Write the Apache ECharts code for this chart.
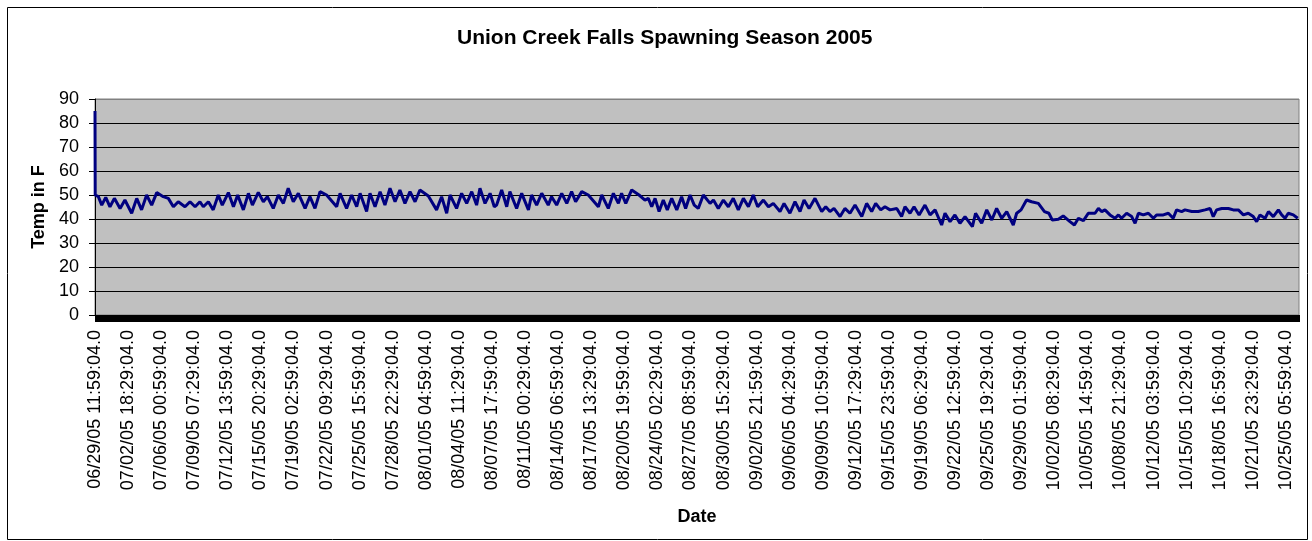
<!DOCTYPE html>
<html>
<head>
<meta charset="utf-8">
<script src="https://cdn.jsdelivr.net/npm/echarts@6/dist/echarts.min.js"></script>
<style>
html,body{margin:0;padding:0;background:#fff;}
#chart{width:1312px;height:541px;}
</style>
</head>
<body>
<div id="chart"></div>
<script>
// Tick labels (every 78.5 hours from the first reading)
const tickLabels = [
  "06/29/05 11:59:04.0","07/02/05 18:29:04.0","07/06/05 00:59:04.0","07/09/05 07:29:04.0",
  "07/12/05 13:59:04.0","07/15/05 20:29:04.0","07/19/05 02:59:04.0","07/22/05 09:29:04.0",
  "07/25/05 15:59:04.0","07/28/05 22:29:04.0","08/01/05 04:59:04.0","08/04/05 11:29:04.0",
  "08/07/05 17:59:04.0","08/11/05 00:29:04.0","08/14/05 06:59:04.0","08/17/05 13:29:04.0",
  "08/20/05 19:59:04.0","08/24/05 02:29:04.0","08/27/05 08:59:04.0","08/30/05 15:29:04.0",
  "09/02/05 21:59:04.0","09/06/05 04:29:04.0","09/09/05 10:59:04.0","09/12/05 17:29:04.0",
  "09/15/05 23:59:04.0","09/19/05 06:29:04.0","09/22/05 12:59:04.0","09/25/05 19:29:04.0",
  "09/29/05 01:59:04.0","10/02/05 08:29:04.0","10/05/05 14:59:04.0","10/08/05 21:29:04.0",
  "10/12/05 03:59:04.0","10/15/05 10:29:04.0","10/18/05 16:59:04.0","10/21/05 23:29:04.0",
  "10/25/05 05:59:04.0"
];
const tickStepHours = 78.5;
const lastHour = 2857;

// Readings: [hours since 06/29/05 11:59, temperature F]
const readingsLateJune = [[0,85],[0.5,50],[8,49.3],[16,45.8],[25.5,49],[35.5,45.1],[46,48.6],[59.5,44.4],[71,47.9],[87,42.4],[99,48.6],[110.5,43.8],[122.5,50],[134.5,45.8],[146.5,51],[162,49.3],[174,48.6],[186,45.1],[197.5,47.2],[213.5,45.1],[225.5,47.2],[237.5,45.1],[249,47.2],[257,45.1],[269,47.2],[280.5,43.8],[292.5,50],[302,45.8],[316.5,51],[328.5,45.1],[338.5,50],[352,43.8],[364,50.7],[373.5,45.8],[387.5,51.1],[399.5,47.2],[409,49.3],[423,44.4],[435,50],[447,46.5],[458.5,52.8],[470.5,47.2]];
const readingsJulyAug = [[482.5,50.7],[498.5,44.4],[510,49.3],[522,44.4],[534,51.4],[549.5,50],[573.5,45.1],[581.5,50.7],[597,44.4],[609,50],[621,45.1],[629,50.7],[644.5,43.1],[652.5,50.7],[664.5,45.1],[676.5,51.4],[688,45.8],[700,52.8],[712,47.2],[723.5,52.1],[735.5,46.5],[747.5,51.4],[759.5,47.2],[771,52.1],[791,49.6],[810.5,43.8],[822.5,49.3],[834.5,42.4],[842.5,50],[858,44.4],[870,50.7],[882,46.5],[894,51.4],[905.5,45.8],[913.5,52.8],[925.5,46.5],[937.5,50.7],[947.5,45.1]];
const readingsAugust = [[953,45.8],[965,52.1],[977,45.1],[984.5,51.4],[1000.5,44.4],[1012.5,50.7],[1028.5,43.8],[1036,50],[1048,45.8],[1060,50.7],[1075.5,45.8],[1083.5,49.3],[1095.5,45.8],[1107.5,50.7],[1119.5,46.5],[1131,51.4],[1140.5,47.2],[1155,51.4],[1170.5,50],[1194.5,45.1],[1202.5,50],[1218,44.4],[1230,50.7],[1242,46.5],[1249.5,50.7],[1259.5,46.5],[1273.5,52.1],[1291,50],[1305,47.9],[1313,48.6],[1321,45.1],[1329,48.6],[1338.5,43.1],[1348.5,47.9],[1358,43.8],[1368.5,48.6],[1380.5,43.8],[1392,49.3],[1401.5,44.4],[1412,50],[1422,45.8]];
const readingsSeptember = [[1431.5,44.4],[1443.5,50],[1459.5,46.5],[1467.5,47.9],[1479,44.4],[1491,47.9],[1503,45.1],[1514.5,48.6],[1526.5,43.8],[1538.5,48.6],[1550.5,45.1],[1562,50],[1572.5,45.1],[1586,47.9],[1598,45.1],[1609.5,46.5],[1625.5,43.1],[1635,46.5],[1649,42.4],[1661,47.2],[1673,43.1],[1682.5,47.9],[1694.5,44.4],[1708.5,48.6],[1724.5,43.1],[1734,45.1],[1744,43.1],[1753.5,44.4],[1768,41],[1779.5,44.4],[1791.5,42.4],[1803.5,45.8],[1819.5,41],[1831,46.5],[1843,43.1],[1852.5,46.5],[1864.5,43.8],[1874.5,45.1],[1886.5,43.8]];
const readingsLateSept = [[1902.5,44.4],[1914,41],[1922,45.1],[1934,42.4],[1943.5,45.1],[1955.5,41.7],[1969.5,45.8],[1981.5,41.7],[1993.5,43.8],[2009,37.5],[2017,42.4],[2029,38.9],[2040.5,41.7],[2052.5,38.2],[2064.5,41],[2082,36.8],[2089.5,42.4],[2104,38.2],[2116,43.8],[2128,39.6],[2139.5,44.4],[2151.5,40.3],[2163.5,43.1],[2179,37.5],[2187,42.4],[2197.5,43.8],[2210.5,47.9],[2222.5,47.2],[2238.5,46.5],[2253,43.1],[2263.5,42.4],[2271.5,39.6],[2286,39.9],[2297.5,41.3],[2313.5,38.9],[2324,37.5],[2333.5,40.3],[2345.5,39.3],[2357,42.4],[2373,42.4]];
const readingsOctober = [[2381,44.4],[2389,43.1],[2396.5,43.8],[2408.5,41.7],[2420.5,40.3],[2428.5,41.7],[2436,40.3],[2448,42.4],[2460,41],[2468,38.2],[2476,42.4],[2487.5,41.7],[2499.5,42.4],[2511.5,40.3],[2519,41.7],[2535,41.7],[2547,42.4],[2558.5,40.3],[2566.5,43.8],[2578.5,43.1],[2586.5,43.8],[2602.5,43.1],[2618,43.1],[2634,43.8],[2646,44.4],[2653.5,41],[2661.5,43.8],[2673.5,44.4],[2689.5,44.4],[2701,43.8],[2713,43.8],[2725,41.7],[2736.5,42.4],[2748.5,41],[2756.5,38.9],[2764.5,41.7],[2776.5,40.3],[2784.5,43.1],[2796,41],[2808,43.8],[2816,41.7],[2824,40.3],[2831.5,42.4],[2843.5,41.7],[2854,40.3]];

const seriesData = [].concat(readingsLateJune, readingsJulyAug, readingsAugust, readingsSeptember, readingsLateSept, readingsOctober);

const FONT = "'Liberation Sans', Arial, sans-serif";
const chart = echarts.init(document.getElementById('chart'), null, {renderer: 'canvas'});
const splitColors = ['#000','#000','#000','#000','#000','#000','#000','#000','#000','#808080'];

chart.setOption({
  animation: false,
  backgroundColor: '#fff',
  title: {
    text: 'Union Creek Falls Spawning Season 2005',
    left: 452, top: 23,
    textStyle: {fontFamily: FONT, fontSize: 21, fontWeight: 'bold', color: '#000'}
  },
  graphic: [{
    type: 'rect', silent: true, z: 100,
    shape: {x: 7.5, y: 7.5, width: 1300, height: 532},
    style: {fill: 'none', stroke: '#000', lineWidth: 1}
  }],
  grid: {
    left: 95, right: 13, top: 99, bottom: 226,
    show: true, backgroundColor: '#C0C0C0', borderColor: '#808080', borderWidth: 1
  },
  xAxis: {
    type: 'value', min: 0, max: lastHour, interval: tickStepHours,
    name: 'Date', nameLocation: 'middle', nameGap: 193,
    nameTextStyle: {fontFamily: FONT, fontSize: 18, fontWeight: 'bold', color: '#000'},
    axisLine: {show: true, lineStyle: {color: '#000', width: 1}},
    axisTick: {show: true, length: 7, lineStyle: {color: '#000'}},
    minorTick: {show: true, splitNumber: 40, length: 7, lineStyle: {color: '#000', width: 1}},
    splitLine: {show: false},
    minorSplitLine: {show: false},
    axisLabel: {
      rotate: 90, margin: 15, fontFamily: FONT, fontSize: 18, color: '#000',
      showMaxLabel: false,
      formatter: function (v) {
        const i = Math.round(v / tickStepHours);
        if (Math.abs(v - i * tickStepHours) < 0.01 && i < tickLabels.length) return tickLabels[i];
        return '';
      }
    }
  },
  yAxis: {
    type: 'value', min: 0, max: 90, interval: 10,
    name: 'Temp in F', nameLocation: 'middle', nameGap: 46,
    nameTextStyle: {fontFamily: FONT, fontSize: 18, fontWeight: 'bold', color: '#000'},
    axisLine: {show: true, lineStyle: {color: '#000', width: 1}},
    axisTick: {show: true, length: 6, lineStyle: {color: '#000'}},
    splitLine: {show: true, lineStyle: {color: splitColors, width: 1}},
    axisLabel: {margin: 16, fontFamily: FONT, fontSize: 18, color: '#000'}
  },
  series: [{
    type: 'line',
    data: seriesData,
    showSymbol: false,
    symbol: 'none',
    lineStyle: {color: '#000080', width: 3},
    z: 3
  }]
});
</script>
</body>
</html>
